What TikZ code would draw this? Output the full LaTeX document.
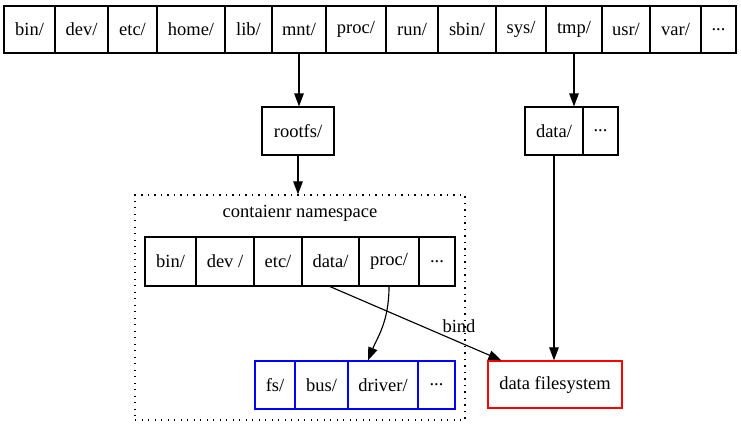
\documentclass[tikz,border=0pt]{standalone}
\usepackage{fontspec}
\setmainfont{Liberation Serif}
\usetikzlibrary{arrows.meta}
\definecolor{gvblue}{RGB}{0,0,255}
\definecolor{gvred}{RGB}{255,0,0}
\begin{document}
\begin{tikzpicture}[x=1pt,y=-1pt,
  font=\fontsize{18.5}{21}\selectfont,
  cell/.style={draw,line width=1.15pt,inner sep=0pt,anchor=center},
  toprow/.style={cell,minimum height=47pt},
  innerrow/.style={cell,minimum height=49pt},
  bluecell/.style={cell,draw=gvblue,line width=1.25pt,minimum height=48pt},
  arr/.style={line width=1.15pt,-{Triangle[length=13pt,width=9.5pt]}}]
\useasboundingbox (0,0) rectangle (741,437);
% top row
\node[toprow,minimum width=51pt] (bin) at (29.5,29.5) {bin/};
\node[toprow,minimum width=53pt] (dev) at (81.5,29.5) {dev/};
\node[toprow,minimum width=49pt] (etc) at (132.5,29.5) {etc/};
\node[toprow,minimum width=68pt] (home) at (191,29.5) {home/};
\node[toprow,minimum width=47pt] (lib) at (248.5,29.5) {lib/};
\node[toprow,minimum width=54pt] (mnt) at (299,29.5) {mnt/};
\node[toprow,minimum width=60pt] (proc) at (356,29.5) {proc/};
\node[toprow,minimum width=52pt] (run) at (412,29.5) {run/};
\node[toprow,minimum width=58pt] (sbin) at (467,29.5) {sbin/};
\node[toprow,minimum width=50pt] (sys) at (521,29.5) {sys/};
\node[toprow,minimum width=56pt] (tmp) at (574,29.5) {tmp/};
\node[toprow,minimum width=48pt] (usr) at (626,29.5) {usr/};
\node[toprow,minimum width=51pt] (var) at (675.5,29.5) {var/};
\node[toprow,minimum width=35pt] (tdots) at (718.5,29.5) {...};
% middle
\node[cell,minimum width=72pt,minimum height=48pt] (rootfs) at (298,131) {rootfs/};
\node[cell,minimum width=58pt,minimum height=48pt] (tdata) at (554,131) {data/};
\node[cell,minimum width=35pt,minimum height=48pt] (tddots) at (600.5,131) {...};
% cluster
\node[draw,line width=1.2pt,dash pattern=on 1.3pt off 5.2pt,inner sep=0pt,
  minimum width=330pt,minimum height=225pt] (cluster) at (300,307.5) {};
\node[inner sep=0pt] (clabel) at (300,213) {contaienr namespace};
% inner row
\node[innerrow,minimum width=51pt] (ibin) at (170.5,261.5) {bin/};
\node[innerrow,minimum width=58pt] (idev) at (225,261.5) {dev /};
\node[innerrow,minimum width=48pt] (ietc) at (278,261.5) {etc/};
\node[innerrow,minimum width=57pt] (idata) at (330.5,261.5) {data/};
\node[innerrow,minimum width=60pt] (iproc) at (389,261.5) {proc/};
\node[innerrow,minimum width=36pt] (idots) at (437,261.5) {...};
% blue row
\node[bluecell,minimum width=40pt] (fs) at (275,385) {fs/};
\node[bluecell,minimum width=53pt] (bus) at (321.5,385) {bus/};
\node[bluecell,minimum width=70pt] (driver) at (383,385) {driver/};
\node[bluecell,minimum width=37pt] (bdots) at (436.5,385) {...};
% data filesystem
\node[cell,draw=gvred,line width=1.25pt,minimum width=134pt,minimum height=47pt] (datafs) at (555,384.5) {data filesystem};
% edges
\draw[arr] (mnt.south) -- (mnt.south |- rootfs.north);
\draw[arr] (tmp.south) -- (tmp.south |- tdata.north);
\draw[arr] (rootfs.south) -- (rootfs.south |- cluster.north);
\draw[arr] (tdata.south) -- (tdata.south |- datafs.north);
\draw[arr] ([xshift=-0.5pt]idata.south) -- ([xshift=14pt]datafs.north west);
\node[inner sep=0pt] (bindlabel) at (459,326) {bind};
\draw[arr] (iproc.south) .. controls (389,322) and (377,338) .. ([xshift=-15pt]driver.north);
\end{tikzpicture}
\end{document}
